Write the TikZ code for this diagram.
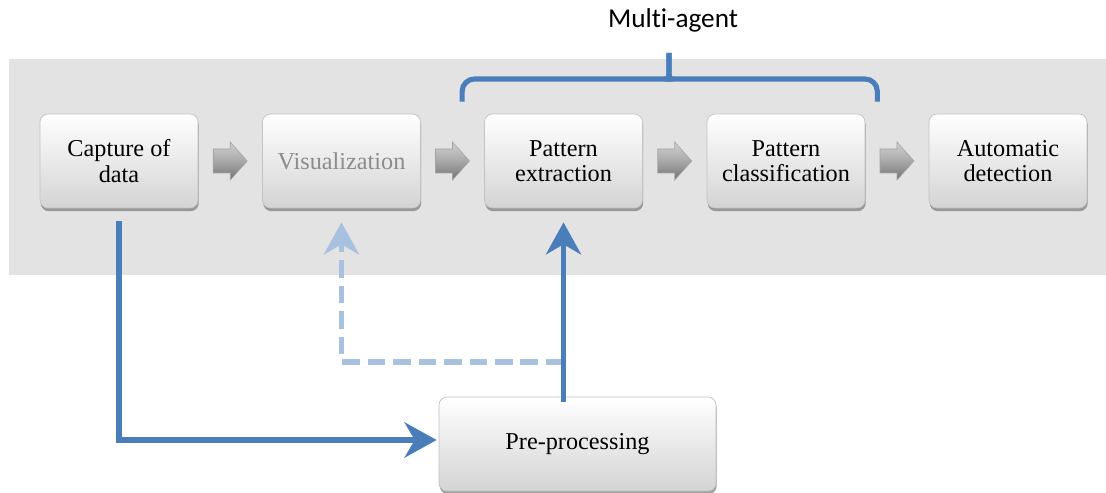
\documentclass[tikz,border=0pt]{standalone}
\usepackage{fontspec}
\setmainfont{Liberation Serif}
\newfontfamily\labelfont[RawFeature=-liga]{Carlito}
\usetikzlibrary{arrows.meta,shadows,calc}
\definecolor{flowblue}{HTML}{4A7EBB}
\definecolor{paleblue}{HTML}{A7C1DF}
\definecolor{bandgray}{HTML}{E3E3E3}
\tikzset{
  stage/.style={rounded corners=0.16cm, draw=black!24, line width=0.4pt,
    top color=white, bottom color=black!17,
    minimum width=3.16cm, minimum height=1.88cm, inner sep=2pt,
    align=center, font=\fontsize{13.8}{14.4}\selectfont,
    drop shadow={shadow xshift=0.4pt, shadow yshift=-1.8pt, opacity=0.6, fill=black!60}},
  flow/.style={draw=flowblue, line width=3.3pt,
    -{Stealth[length=0.64cm,width=0.7cm,inset=0.2cm]}},
  dashflow/.style={draw=paleblue, line width=3.3pt, dash pattern=on 10pt off 4.5pt,
    -{Stealth[length=0.64cm,width=0.7cm,inset=0.2cm]}},
  bracket/.style={draw=flowblue, line width=2.9pt},
  chevron/.style={top color=black!18, bottom color=black!55, middle color=black!34,
    draw=black!36, line width=0.3pt},
  chev/.pic={\path[chevron] (-17,-12) -- (0,-12) -- (0,-19) -- (17,0) -- (0,19)
    -- (0,12) -- (-17,12) -- cycle;}
}
\begin{document}
\begin{tikzpicture}[x=0.02cm, y=-0.02cm]
\useasboundingbox (0,0) rectangle (1106,493);

% grey band behind the main pipeline
\fill[bandgray] (9,59) rectangle (1106,275);

% pipeline stages
\node[stage] (cap)  at (119,161)   {Capture of\\data};
\node[stage, text=black!45] (vis) at (341.5,161) {Visualization};
\node[stage] (pext) at (563.5,161) {Pattern\\extraction};
\node[stage] (pcls) at (786,161)   {Pattern\\classification};
\node[stage] (auto) at (1008,161)  {Automatic\\detection};
\node[stage, minimum width=5.54cm] (pre) at (577.5,444) {Pre-processing};

% grey step arrows between consecutive stages
\path (cap.east)  -- coordinate[midway] (s1) (vis.west);
\path (vis.east)  -- coordinate[midway] (s2) (pext.west);
\path (pext.east) -- coordinate[midway] (s3) (pcls.west);
\path (pcls.east) -- coordinate[midway] (s4) (auto.west);
\foreach \s in {s1,s2,s3,s4} \pic at (\s) {chev};

% multi-agent bracket
\node[font=\labelfont\fontsize{15.5}{18}\selectfont] (ma) at (673,20) {Multi-agent};
\coordinate (tip) at (669,53);
\coordinate (bl) at ($(pext.north west)+(-22,-12)$);
\coordinate (br) at ($(pcls.north east)+(12,-12)$);
\draw[bracket, rounded corners=7] (bl) |- ($(tip)+(-8,26)$) [sharp corners]
  .. controls ($(tip)+(-2,26)$) and ($(tip)+(0,24)$) .. ($(tip)+(0,17)$) -- (tip);
\draw[bracket, rounded corners=7] (br) |- ($(tip)+(8,26)$) [sharp corners]
  .. controls ($(tip)+(2,26)$) and ($(tip)+(0,24)$) .. ($(tip)+(0,17)$) -- (tip);

% data flow through pre-processing
\coordinate (up) at (pre.north -| pext.south);
\coordinate (dj) at ($(up)+(0,-35)$);
\draw[dashflow] (dj) -| ($(vis.south)+(0,14)$);
\draw[flow] ($(cap.south)+(0,13)$) |- ($(pre.west)+(-2,-4)$);
\draw[flow] ($(up)+(0,5)$) -- ($(pext.south)+(0,14)$);
\end{tikzpicture}
\end{document}
